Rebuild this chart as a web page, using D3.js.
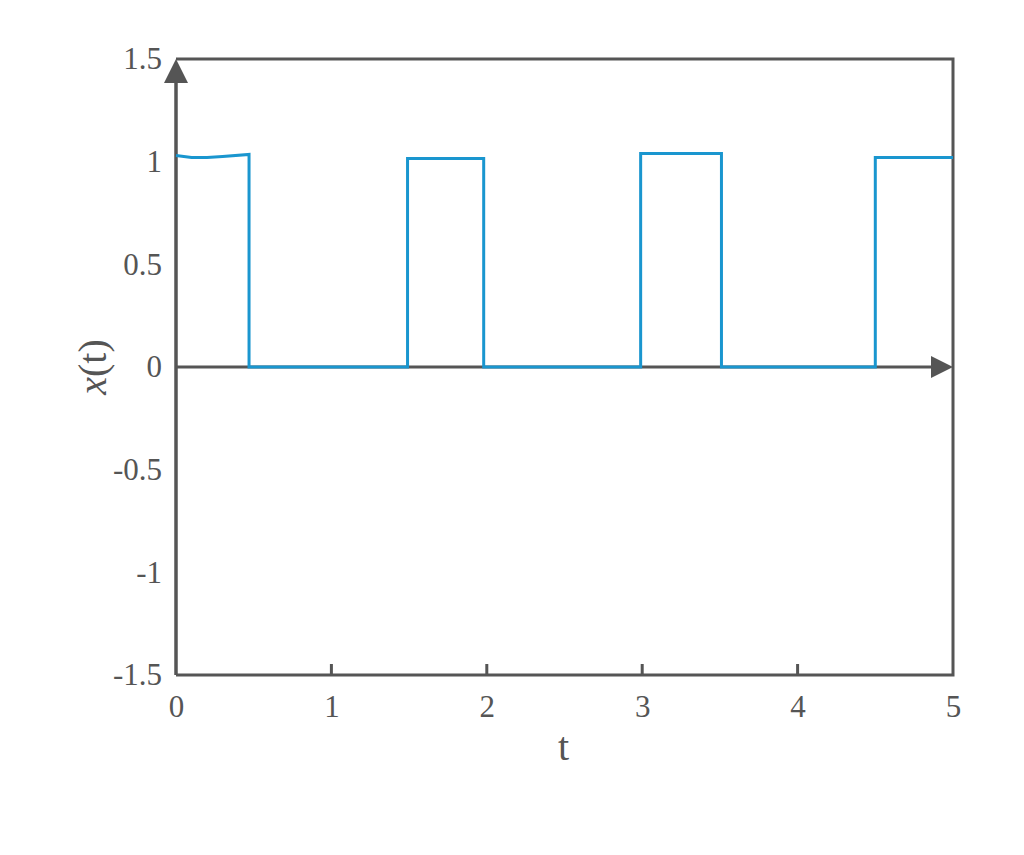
<!DOCTYPE html>
<html>
<head>
<meta charset="utf-8">
<script src="https://cdn.jsdelivr.net/npm/d3@7"></script>
<style>
  html, body { margin: 0; padding: 0; background: #fff; }
  svg { display: block; }
  text { font-family: "Liberation Serif", "DejaVu Serif", serif; fill: #555; }
</style>
</head>
<body>
<svg id="chart" width="1024" height="855"></svg>
<script>
// Data
const tValues = [0, 0.1, 0.2, 0.3, 0.47, 0.47, 1.49, 1.49, 1.98, 1.98, 2.99, 2.99, 3.51, 3.51, 4.50, 4.50, 5.0];
const xValues = [1.03, 1.02, 1.02, 1.025, 1.035, 0, 0, 1.015, 1.015, 0, 0, 1.04, 1.04, 0, 0, 1.02, 1.02];
const xTicks = [0, 1, 2, 3, 4, 5];
const yTicks = [-1.5, -1, -0.5, 0, 0.5, 1, 1.5];
const xLabel = "t";
const yLabel = "x(t)";

const svg = d3.select("#chart");
const pLeft = 176, pRight = 953, pTop = 59, pBottom = 675;
const gray = "#555555", blue = "#1a96cf";
const fs = 31;

const x = d3.scaleLinear().domain([0, 5]).range([pLeft, pRight]);
const y = d3.scaleLinear().domain([-1.5, 1.5]).range([pBottom, pTop]);

// frame
svg.append("path")
  .attr("d", `M${pLeft},${pTop}H${pRight}V${pBottom}H${pLeft}`)
  .attr("fill", "none").attr("stroke", gray).attr("stroke-width", 3);

// bottom labels
const xAxis = d3.axisBottom(x).tickValues(xTicks).tickSize(0).tickPadding(20)
  .tickFormat(d3.format("d"));
const gx = svg.append("g").attr("transform", `translate(0,${pBottom})`).call(xAxis);
gx.select(".domain").remove();
gx.selectAll("text").style("font-size", fs + "px").style("font-family", "Liberation Serif, serif").attr("fill", gray);
svg.append("g").selectAll("line").data(xTicks.filter(d => d > 0 && d < 5)).join("line")
  .attr("x1", d => x(d)).attr("x2", d => x(d))
  .attr("y1", pBottom).attr("y2", pBottom - 11)
  .attr("stroke", gray).attr("stroke-width", 3);

// left labels
const yAxis = d3.axisLeft(y).tickValues(yTicks).tickSize(0).tickPadding(14)
  .tickFormat(d => String(d));
const gy = svg.append("g").attr("transform", `translate(${pLeft},0)`).call(yAxis);
gy.select(".domain").remove();
gy.selectAll("text").style("font-size", fs + "px").style("font-family", "Liberation Serif, serif").attr("fill", gray);

// y-axis arrow line
svg.append("line").attr("x1", pLeft).attr("x2", pLeft).attr("y1", pBottom).attr("y2", pTop + 20)
  .attr("stroke", gray).attr("stroke-width", 3.5);
svg.append("path")
  .attr("d", `M${pLeft},${pTop}L${pLeft - 12},${pTop + 24}L${pLeft + 12},${pTop + 24}Z`)
  .attr("fill", gray);

// x-axis (zero) arrow
svg.append("line").attr("x1", pLeft).attr("x2", pRight - 20).attr("y1", y(0)).attr("y2", y(0))
  .attr("stroke", gray).attr("stroke-width", 3);
svg.append("path")
  .attr("d", `M${pRight},${y(0)}L${pRight - 22},${y(0) - 11}L${pRight - 22},${y(0) + 11}Z`)
  .attr("fill", gray);

// signal
const pts = tValues.map((t, i) => [t, xValues[i]]);
const line = d3.line().x(d => x(d[0])).y(d => y(d[1]));
svg.append("path").datum(pts).attr("d", line)
  .attr("fill", "none").attr("stroke", blue).attr("stroke-width", 3);

// axis titles
svg.append("text").attr("x", (pLeft + pRight) / 2 - 1).attr("y", 760)
  .attr("text-anchor", "middle").style("font-size", "40px").attr("fill", gray).text(xLabel);
svg.append("text").attr("transform", `translate(106,${y(0)}) rotate(-90)`)
  .attr("text-anchor", "middle").style("font-size", "40px").attr("fill", gray)
  .html('<tspan font-style="italic">x</tspan>(t)');
</script>
</body>
</html>
